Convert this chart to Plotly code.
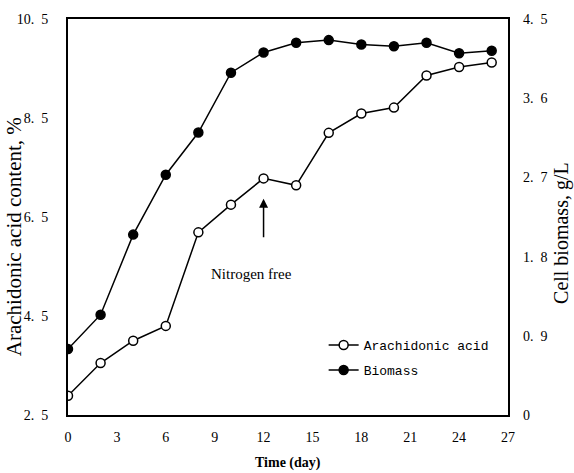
import plotly.graph_objects as go

days = [0, 2, 4, 6, 8, 10, 12, 14, 16, 18, 20, 22, 24, 26]
arachidonic = [2.89, 3.55, 4.0, 4.3, 6.19, 6.75, 7.28, 7.14, 8.2, 8.59, 8.71, 9.36, 9.53, 9.62]
biomass = [0.75, 1.14, 2.05, 2.73, 3.21, 3.89, 4.12, 4.23, 4.26, 4.21, 4.19, 4.23, 4.11, 4.14]

x_ticks = [0, 3, 6, 9, 12, 15, 18, 21, 24, 27]
y1_ticks = [2.5, 4.5, 6.5, 8.5, 10.5]
y1_labels = ["2.\u20025", "4.\u20025", "6.\u20025", "8.\u20025", "10.\u20025"]
y2_ticks = [0, 0.9, 1.8, 2.7, 3.6, 4.5]
y2_labels = ["0", "0.\u20029", "1.\u20028", "2.\u20027", "3.\u20026", "4.\u20025"]

serif = "Liberation Serif"

fig = go.Figure()
fig.add_trace(go.Scatter(
    x=days, y=arachidonic, name="Arachidonic acid", mode="lines+markers",
    legendgroup="a",
    line=dict(color="black", width=1.5),
    marker=dict(symbol="circle", size=9, color="white", line=dict(color="black", width=1.5)),
    yaxis="y",
))
fig.add_trace(go.Scatter(
    x=days, y=biomass, name="Biomass", mode="lines+markers",
    legendgroup="b",
    line=dict(color="black", width=1.5),
    marker=dict(symbol="circle", size=9, color="black", line=dict(color="black", width=1.5)),
    yaxis="y2",
))

fig.add_annotation(
    x=12, y=6.87, ax=12, ay=6.06, xref="x", yref="y", axref="x", ayref="y",
    showarrow=True, arrowhead=2, arrowsize=1.2, arrowwidth=1.5, arrowcolor="black", text="",
)
fig.add_annotation(
    x=11.27, y=5.35, xref="x", yref="y", text="Nitrogen free", showarrow=False,
    font=dict(family=serif, size=15, color="black"),
)

# axis titles
fig.add_annotation(
    x=-0.124, y=0.45, xref="paper", yref="paper", text="Arachidonic acid content, %",
    textangle=-90, showarrow=False, xanchor="center", yanchor="middle",
    font=dict(family=serif, size=21, color="black"),
)
fig.add_annotation(
    x=1.123, y=0.46, xref="paper", yref="paper", text="Cell biomass, g/L",
    textangle=-90, showarrow=False, xanchor="center", yanchor="middle",
    font=dict(family=serif, size=20, color="black"),
)
fig.add_annotation(
    x=0.5, y=-0.12, xref="paper", yref="paper", text="<b>Time (day)</b>",
    showarrow=False, xanchor="center", yanchor="middle",
    font=dict(family=serif, size=14, color="black"),
)

fig.update_layout(
    width=574, height=473,
    margin=dict(l=68, r=66, t=15, b=58),
    paper_bgcolor="white", plot_bgcolor="white",
    showlegend=True,
    legend=dict(
        x=0.581, y=0.145, xanchor="left", yanchor="middle",
        bgcolor="rgba(0,0,0,0)", borderwidth=0,
        font=dict(family="Liberation Mono", size=13, color="black"),
        itemwidth=30, tracegroupgap=5,
    ),
    xaxis=dict(
        range=[0, 27], tickvals=x_ticks, ticks="", showgrid=False, zeroline=False,
        showline=True, linecolor="black", linewidth=2, mirror=True,
        ticklabelstandoff=8,
        tickfont=dict(family=serif, size=14, color="black"),
    ),
    yaxis=dict(
        range=[2.5, 10.5], tickvals=y1_ticks, ticktext=y1_labels, ticks="", showgrid=False, zeroline=False,
        showline=True, linecolor="black", linewidth=2, mirror=True,
        ticklabelstandoff=15,
        tickfont=dict(family=serif, size=14, color="black"),
    ),
    yaxis2=dict(
        range=[0, 4.5], tickvals=y2_ticks, ticktext=y2_labels, ticks="", showgrid=False, zeroline=False,
        overlaying="y", side="right", showline=False,
        ticklabelstandoff=14,
        tickfont=dict(family=serif, size=14, color="black"),
    ),
)

fig.write_html("out.html")
